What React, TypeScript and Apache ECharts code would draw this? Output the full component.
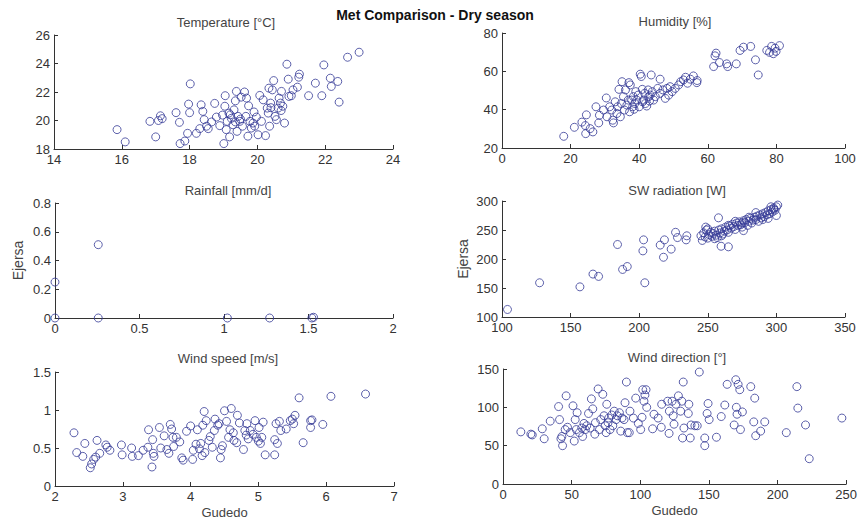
import React, { useEffect, useRef } from "react";
import * as echarts from "echarts";

const mainTitle = "Met Comparison - Dry season";
const panelTitles = [
  "Temperature [°C]",
  "Humidity [%]",
  "Rainfall [mm/d]",
  "SW radiation [W]",
  "Wind speed [m/s]",
  "Wind direction [°]",
];
const yName = "Ejersa";
const xName = "Gudedo";

const tempPts = [
  [15.86, 19.36], [16.1, 18.5], [16.83, 19.94], [17.08, 20.0], [17.0, 18.85], [17.14, 20.33], [17.19, 20.13],
  [17.6, 20.55], [17.7, 19.87], [17.72, 18.38], [17.86, 18.56], [17.94, 19.1], [17.97, 21.15], [18.0, 20.55],
  [18.02, 22.57], [18.2, 19.1], [18.3, 19.43], [18.34, 21.1], [18.39, 20.64], [18.43, 20.06], [18.5, 19.6],
  [18.55, 19.43], [18.74, 21.2], [18.79, 20.24], [18.89, 19.64], [18.97, 20.38], [19.01, 18.38], [19.04, 21.0],
  [19.05, 21.74], [19.08, 19.36], [19.11, 19.94], [19.16, 20.52], [19.18, 18.85], [19.23, 20.15], [19.28, 19.7],
  [19.31, 20.75], [19.35, 21.38], [19.38, 22.04], [19.4, 19.24], [19.43, 20.29], [19.48, 19.94], [19.52, 21.64],
  [19.56, 19.6], [19.62, 22.0], [19.66, 20.29], [19.68, 21.57], [19.72, 18.9], [19.74, 21.03], [19.78, 19.94],
  [19.82, 19.47], [19.87, 19.82], [19.92, 19.6], [19.97, 20.24], [20.02, 19.0], [20.07, 21.76], [20.12, 19.94],
  [20.17, 21.45], [20.24, 18.94], [20.29, 20.87], [20.32, 20.52], [20.34, 22.27], [20.36, 19.6], [20.39, 21.22],
  [20.44, 22.15], [20.48, 22.8], [20.52, 20.29], [20.56, 20.06], [20.61, 20.87], [20.64, 21.57], [20.68, 21.22],
  [20.71, 22.04], [20.75, 21.0], [20.8, 19.82], [20.87, 23.95], [20.91, 22.9], [20.93, 21.69], [21.0, 21.74],
  [21.05, 22.15], [21.18, 22.34], [21.22, 23.04], [21.24, 23.25], [21.51, 21.74], [21.71, 22.62], [21.9, 21.74],
  [21.96, 23.9], [22.15, 22.97], [22.18, 22.39], [22.37, 22.74], [22.41, 21.29], [22.66, 24.44], [23.0, 24.79],
  [19.2, 20.4], [19.5, 20.1], [19.9, 20.6], [20.4, 20.9], [20.7, 20.7], [19.35, 19.9], [18.65, 19.9],
];

const humPts = [
  [18, 26.1], [21.1, 30.8], [23.3, 33.5], [24.3, 31.7], [24.6, 37.3], [24.4, 27.5], [25.7, 30.1], [26.5, 28.4],
  [27.4, 41.5], [28.2, 33.1], [28.4, 37.1], [29.6, 39.8], [30.4, 46.1], [30.6, 36.3], [31.4, 41.5], [32.0, 39.8],
  [32.3, 34.5], [32.5, 33.1], [33.0, 44.1], [33.5, 38.0], [33.7, 41.5], [34.1, 50.6], [34.5, 36.3], [34.8, 43.2],
  [35.0, 54.6], [35.4, 46.8], [35.7, 39.8], [36.0, 50.3], [36.4, 42.4], [36.8, 45.0], [37.0, 54.1], [37.2, 38.9],
  [37.4, 52.9], [37.8, 45.0], [38.1, 41.5], [38.3, 46.8], [38.7, 43.2], [39.0, 49.4], [39.3, 45.0], [39.7, 47.6],
  [40.0, 41.5], [40.3, 58.5], [40.6, 57.3], [40.9, 50.6], [41.3, 45.0], [41.6, 48.5], [41.8, 43.2], [42.2, 41.9],
  [42.6, 50.3], [42.8, 46.8], [43.2, 47.6], [43.5, 58.1], [43.8, 49.4], [44.2, 45.0], [44.7, 46.8], [45.4, 51.1],
  [46.1, 55.9], [46.1, 48.5], [46.9, 50.3], [47.6, 45.9], [48.1, 51.1], [48.6, 47.6], [49.0, 52.0], [49.6, 49.4],
  [50.5, 51.1], [51.5, 52.9], [52.1, 54.6], [52.9, 55.5], [53.5, 56.9], [54.1, 53.8], [54.9, 55.9], [55.8, 57.6],
  [56.8, 54.1], [56.9, 55.2], [61.7, 62.5], [62.1, 68.1], [62.4, 69.5], [63.4, 64.6], [65.5, 63.9], [65.8, 62.5],
  [68.3, 63.9], [69.4, 70.9], [70.4, 72.6], [72.5, 73.0], [73.9, 66.0], [74.7, 58.1], [77.2, 70.9], [78.0, 69.9],
  [78.6, 73.0], [79.1, 69.2], [79.6, 72.1], [79.9, 70.4], [80.9, 73.4], [38.5, 40.2], [41.0, 44.1], [43.0, 44.5],
];

const rainPts = [
  [0, 0.25], [0, 0], [0.256, 0.51], [0.256, 0], [1.02, 0], [1.27, 0], [1.52, 0], [1.53, 0.005],
];

const swPts = [
  [104, 113], [127.4, 159], [156.8, 152], [166.3, 174], [170.4, 170], [184.2, 225], [187.9, 182], [191.3, 187],
  [202.7, 214], [203.2, 233], [204.1, 159], [215.3, 224], [217.7, 203], [218.4, 233], [223.3, 217], [226.5, 246],
  [227.9, 237], [234.2, 233], [234.7, 240], [257.8, 271], [259.7, 222], [265, 221], [248.5, 255], [276, 249],
  [245, 240], [246, 232], [247, 245], [248, 238], [249, 250], [250, 236], [251, 242], [252, 246], [253, 239],
  [254, 244], [255, 248], [256, 241], [257, 237], [258, 250], [259, 245], [260, 252], [261, 243], [262, 248],
  [263, 255], [264, 250], [265, 246], [266, 257], [267, 253], [268, 260], [269, 256], [270, 251], [271, 262],
  [272, 258], [273, 264], [274, 259], [275, 262], [276, 266], [277, 263], [278, 268], [279, 258], [280, 265],
  [281, 270], [282, 262], [283, 267], [284, 272], [285, 268], [286, 274], [287, 265], [288, 276], [289, 271],
  [290, 278], [291, 273], [292, 280], [293, 276], [294, 283], [295, 278], [296, 285], [297, 281], [298, 288],
  [299, 284], [300, 290], [301, 293], [300, 275], [298, 286], [296, 290], [294, 270], [290, 268], [285, 280],
  [280, 272], [275, 255], [270, 265], [265, 258], [260, 240], [255, 235], [250, 252],
];

const windPts = [
  [2.28, 0.70], [2.32, 0.44], [2.41, 0.39], [2.44, 0.56], [2.52, 0.24], [2.54, 0.29], [2.57, 0.35], [2.6, 0.38],
  [2.62, 0.60], [2.66, 0.43], [2.75, 0.54], [2.77, 0.51], [2.81, 0.47], [2.98, 0.54], [2.99, 0.41], [3.13, 0.50],
  [3.14, 0.39], [3.23, 0.40], [3.3, 0.47], [3.37, 0.51], [3.38, 0.74], [3.43, 0.25], [3.44, 0.61], [3.45, 0.43],
  [3.46, 0.39], [3.54, 0.77], [3.56, 0.50], [3.61, 0.66], [3.65, 0.48], [3.68, 0.43], [3.7, 0.81], [3.72, 0.75],
  [3.74, 0.64], [3.75, 0.52], [3.79, 0.64], [3.84, 0.58], [3.87, 0.37], [3.89, 0.34], [3.94, 0.72], [4.0, 0.79],
  [4.03, 0.35], [4.04, 0.47], [4.08, 0.55], [4.1, 0.74], [4.13, 0.49], [4.15, 0.56], [4.17, 0.40], [4.18, 0.80],
  [4.2, 0.98], [4.21, 0.44], [4.23, 0.86], [4.27, 0.60], [4.29, 0.65], [4.32, 0.51], [4.35, 0.73], [4.36, 0.88],
  [4.4, 0.80], [4.42, 0.82], [4.44, 0.37], [4.45, 0.48], [4.47, 0.53], [4.5, 0.99], [4.53, 0.85], [4.56, 0.64],
  [4.58, 0.74], [4.6, 1.02], [4.63, 0.70], [4.64, 0.60], [4.68, 0.57], [4.69, 0.93], [4.72, 0.83], [4.78, 0.48],
  [4.8, 0.73], [4.82, 0.67], [4.83, 0.82], [4.85, 0.62], [4.88, 0.73], [4.92, 0.68], [4.95, 0.86], [4.97, 0.64],
  [5.0, 0.59], [5.01, 0.77], [5.03, 0.56], [5.05, 0.64], [5.07, 0.84], [5.1, 0.41], [5.24, 0.61], [5.24, 0.41],
  [5.26, 0.82], [5.28, 0.56], [5.31, 0.85], [5.33, 0.73], [5.41, 0.75], [5.47, 0.86], [5.5, 0.88], [5.54, 0.93],
  [5.52, 0.82], [5.6, 1.16], [5.66, 0.57], [5.77, 0.86], [5.77, 0.77], [5.79, 0.87], [5.95, 0.81], [6.07, 1.18],
  [6.58, 1.21],
];

const dirPts = [
  [13, 68], [20.3, 65], [21.3, 64], [28.6, 72], [30, 59], [34.4, 82], [40.5, 101], [41.2, 84], [42.2, 59],
  [42.9, 62], [43.4, 50], [45.3, 71], [46, 115], [47, 74], [49, 67], [51, 102], [51.9, 56], [52.6, 84], [53.4, 71],
  [54, 93], [55.7, 67], [57.4, 73], [58, 62], [59, 79], [60, 71], [61, 76], [62.3, 92], [63.5, 73], [64.4, 111],
  [65.4, 98], [66.9, 65], [67.3, 80], [69.3, 124], [70.3, 71], [71.2, 84], [72.7, 117], [73.6, 89], [74.4, 76],
  [75.1, 67], [75.6, 104], [76.5, 80], [77, 86], [78, 71], [79.2, 90], [80, 76], [81, 95], [82.4, 84], [83.3, 89],
  [84.8, 93], [85.8, 69], [86.7, 86], [88.2, 84], [88.9, 106], [89.9, 133], [90.6, 67], [92, 67], [92.5, 95],
  [95, 86], [96.7, 112], [98.6, 79], [100.3, 71], [101.3, 87], [101.8, 123], [102.7, 108], [103.4, 116],
  [104.2, 123], [104.7, 100], [109, 72], [110, 91], [113, 86], [115.3, 74], [115.6, 104], [120, 108], [121, 66],
  [121.2, 95], [123.2, 108], [124, 89], [124.6, 78], [126, 104], [127.8, 115], [129.4, 95], [130.3, 108],
  [131.3, 133], [131.8, 73], [130.8, 60], [135, 92], [135.4, 104], [136.4, 60], [137, 77], [139.8, 76], [141.5, 76],
  [143, 146], [147, 60], [147, 50], [148.7, 92], [149.4, 105], [150.2, 84], [155.5, 61], [159, 88], [161.6, 103],
  [163.3, 130], [168.4, 77], [169.6, 136], [170, 100], [170.5, 91], [171.3, 130], [172.5, 123], [173, 71],
  [174.4, 94], [180.5, 127], [182.7, 81], [183.4, 112], [184.1, 63], [187.7, 69], [190.7, 81], [206.4, 67],
  [214.1, 127], [214.8, 99], [220.4, 77], [223.1, 33], [246.9, 86],
];

const xRanges = [[14, 24, 2], [0, 100, 20], [0, 2, 0.5], [100, 350, 50], [2, 7, 1], [0, 250, 50]];
const yRanges = [[18, 26, 2], [20, 80, 20], [0, 0.8, 0.2], [100, 300, 50], [0, 1.5, 0.5], [0, 150, 50]];

export default function App() {
  const ref = useRef<HTMLDivElement>(null);
  useEffect(() => {
    const chart = echarts.init(ref.current!, null, { renderer: "svg" });
    const font = "Liberation Sans, Arial, sans-serif";
    const grids = [
      { left: 54, top: 35, width: 339, height: 114 },
      { left: 502, top: 33, width: 343, height: 115 },
      { left: 55, top: 203, width: 338, height: 115 },
      { left: 502, top: 201, width: 343, height: 116 },
      { left: 55, top: 372, width: 339, height: 114 },
      { left: 503, top: 369, width: 344, height: 115 },
    ];
    const titlePos = [
      [221, 11], [670, 10], [223, 179], [672, 179], [223, 347], [672, 346],
    ];
    const datasets = [tempPts, humPts, rainPts, swPts, windPts, dirPts];
    const axisLine = { show: true, lineStyle: { color: "#333", width: 1 } };
    const axisTick = { show: true, inside: true, length: 4, lineStyle: { color: "#333" } };
    const axisLabel = { color: "#333", fontSize: 13, fontFamily: font, margin: 4 };
    const option: any = {
      animation: false,
      backgroundColor: "#fff",
      title: [
        {
          text: mainTitle, left: 430, top: 3, textAlign: "center",
          textStyle: { fontSize: 14, fontWeight: "bold", color: "#111", fontFamily: font },
        },
        ...panelTitles.map((t, i) => ({
          text: t, left: titlePos[i][0], top: titlePos[i][1], textAlign: "center",
          textStyle: { fontSize: 13, fontWeight: "normal", color: "#444", fontFamily: font },
        })),
      ],
      grid: grids,
      xAxis: xRanges.map((r, i) => ({
        type: "value", gridIndex: i, min: r[0], max: r[1], interval: r[2],
        axisLine, axisTick, axisLabel, splitLine: { show: false },
        name: i >= 4 ? xName : "", nameLocation: "middle", nameGap: 20,
        nameTextStyle: { color: "#444", fontSize: 13, fontFamily: font },
      })),
      yAxis: yRanges.map((r, i) => ({
        type: "value", gridIndex: i, min: r[0], max: r[1], interval: r[2],
        axisLine, axisTick, axisLabel, splitLine: { show: false },
        name: i === 2 || i === 3 ? yName : "", nameLocation: "middle",
        nameGap: i === 2 ? 30 : 32,
        nameTextStyle: { color: "#444", fontSize: 14, fontFamily: font },
      })),
      series: datasets.map((d, i) => ({
        type: "scatter", xAxisIndex: i, yAxisIndex: i, data: d, clip: false,
        symbol: "circle", symbolSize: 8,
        itemStyle: { color: "rgba(0,0,0,0)", borderColor: "#343a96", borderWidth: 1 },
      })),
    };
    chart.setOption(option);
    return () => chart.dispose();
  }, []);
  return (
    <div
      ref={ref}
      style={{ position: "fixed", left: 0, top: 0, width: 860, height: 522, background: "#fff" }}
    />
  );
}
